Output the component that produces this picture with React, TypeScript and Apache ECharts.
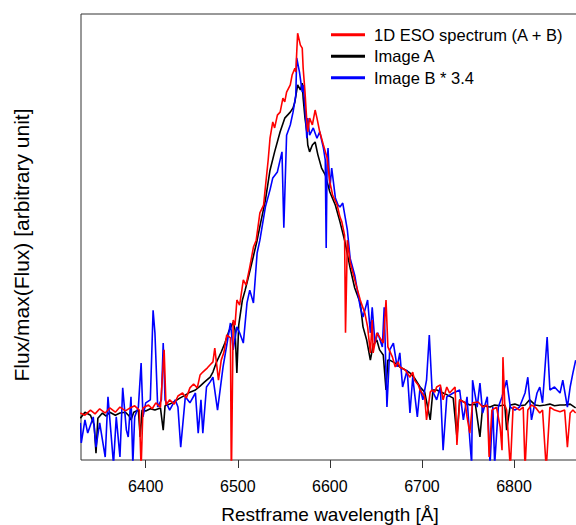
import React, { useEffect, useRef } from "react";
import * as echarts from "echarts";

// Tick labels on the wavelength axis
const wavelengthTicks = [6400, 6500, 6600, 6700, 6800];

const seriesNames = ["1D ESO spectrum (A + B)", "Image A", "Image B * 3.4"];
const seriesColors = ["#ff0000", "#000000", "#0000ff"];

// [restframe wavelength (Å), Flux/max(Flux)]
const esoSpectrum: [number, number][] = [
  [6329, 0.110], [6334, 0.105], [6340, 0.117], [6345, 0.108], [6350, 0.120], [6356, 0.110],
  [6361, 0.122], [6367, 0.112], [6372, 0.124], [6378, 0.115], [6383, 0.122], [6388, 0.127],
  [6393, 0.117], [6395, -0.02], [6397, 0.122], [6403, 0.129], [6407, 0.120], [6411, 0.134],
  [6416, 0.124], [6420, 0.258], [6422, 0.129], [6426, 0.141], [6431, 0.131], [6435, 0.150],
  [6440, 0.157], [6444, 0.145], [6448, 0.169], [6452, 0.178], [6456, 0.169], [6459, 0.199],
  [6462, 0.206], [6467, 0.216], [6470, 0.223], [6473, 0.230], [6475, 0.262], [6479, 0.187],
  [6482, 0.234], [6485, 0.253], [6488, 0.293], [6492, 0.286], [6493, -0.05], [6495, 0.328],
  [6497, 0.316], [6499, 0.375], [6502, 0.363], [6506, 0.422], [6509, 0.410], [6513, 0.452],
  [6517, 0.499], [6520, 0.515], [6524, 0.579], [6528, 0.597], [6530, 0.640], [6533, 0.703],
  [6535, 0.754], [6538, 0.792], [6540, 0.778], [6543, 0.808], [6546, 0.815], [6549, 0.848],
  [6551, 0.839], [6553, 0.862], [6557, 0.879], [6559, 0.902], [6562, 0.918], [6563, 0.909],
  [6565, 1.000], [6568, 0.972], [6570, 0.965], [6571, 0.918], [6573, 0.862], [6575, 0.792],
  [6576, 0.769], [6578, 0.801], [6581, 0.785], [6584, 0.820], [6586, 0.801], [6589, 0.769],
  [6593, 0.738], [6597, 0.708], [6600, 0.651], [6603, 0.621], [6608, 0.597], [6611, 0.569],
  [6613, 0.558], [6616, 0.527], [6617, 0.298], [6619, 0.515], [6622, 0.464], [6627, 0.422],
  [6633, 0.375], [6638, 0.344], [6641, 0.312], [6644, 0.251], [6646, 0.328], [6647, 0.251],
  [6651, 0.298], [6654, 0.288], [6658, 0.274], [6661, 0.375], [6663, 0.265], [6668, 0.241],
  [6671, 0.218], [6674, 0.230], [6676, 0.218], [6682, 0.211], [6687, 0.194], [6690, 0.206],
  [6692, 0.187], [6696, 0.176], [6698, 0.164], [6703, 0.148], [6705, 0.094], [6709, 0.159],
  [6711, 0.164], [6714, 0.159], [6716, 0.171], [6720, 0.176], [6723, 0.141], [6727, 0.171],
  [6730, 0.157], [6733, 0.164], [6736, 0.171], [6738, 0.035], [6741, 0.141], [6747, 0.134],
  [6749, 0.101], [6752, 0.063], [6755, 0.134], [6761, 0.136], [6766, 0.124], [6771, 0.129],
  [6773, 0.007], [6776, 0.117], [6781, 0.124], [6785, 0.077], [6787, 0.023], [6788, 0.241],
  [6790, 0.129], [6792, 0.117], [6796, -0.02], [6799, 0.124], [6801, 0.124], [6806, 0.117],
  [6810, 0.124], [6812, -0.02], [6815, 0.117], [6819, 0.129], [6823, 0.124], [6828, 0.110],
  [6831, 0.117], [6835, -0.02], [6839, 0.124], [6844, 0.117], [6850, 0.113], [6855, 0.117],
  [6858, 0.030], [6861, 0.110], [6864, 0.117], [6867, 0.110],
];

const imageA: [number, number][] = [
  [6329, 0.098], [6334, 0.112], [6340, 0.105], [6344, 0.082], [6346, 0.016], [6348, 0.098],
  [6353, 0.110], [6357, 0.103], [6361, 0.112], [6367, 0.105], [6372, 0.110], [6378, 0.112],
  [6382, 0.103], [6384, 0.094], [6387, 0.112], [6392, 0.117], [6394, 0.054], [6396, 0.117],
  [6400, 0.115], [6405, 0.120], [6410, 0.117], [6416, 0.122], [6419, 0.070], [6421, 0.127],
  [6426, 0.131], [6432, 0.138], [6437, 0.145], [6443, 0.152], [6448, 0.159], [6454, 0.164],
  [6459, 0.173], [6464, 0.183], [6470, 0.194], [6473, 0.206], [6477, 0.230], [6482, 0.253],
  [6486, 0.274], [6490, 0.300], [6495, 0.323], [6497, 0.305], [6499, 0.204], [6501, 0.316],
  [6505, 0.375], [6508, 0.398], [6512, 0.433], [6517, 0.478], [6521, 0.515], [6525, 0.558],
  [6530, 0.609], [6535, 0.679], [6540, 0.722], [6546, 0.769], [6551, 0.801], [6557, 0.815],
  [6560, 0.825], [6562, 0.839], [6565, 0.879], [6568, 0.867], [6570, 0.883], [6571, 0.848],
  [6573, 0.801], [6575, 0.769], [6576, 0.738], [6578, 0.722], [6581, 0.738], [6584, 0.745],
  [6587, 0.715], [6591, 0.684], [6595, 0.668], [6600, 0.628], [6606, 0.597], [6611, 0.558],
  [6616, 0.515], [6622, 0.450], [6627, 0.403], [6633, 0.368], [6636, 0.312], [6640, 0.281],
  [6644, 0.234], [6647, 0.269], [6651, 0.281], [6654, 0.258], [6658, 0.246], [6661, 0.164],
  [6663, 0.234], [6665, 0.234], [6671, 0.227], [6676, 0.218], [6682, 0.211], [6687, 0.204],
  [6692, 0.192], [6698, 0.171], [6703, 0.159], [6709, 0.094], [6712, 0.164], [6716, 0.164],
  [6723, 0.157], [6728, 0.152], [6734, 0.145], [6738, 0.054], [6741, 0.141], [6747, 0.134],
  [6752, 0.129], [6758, 0.131], [6763, 0.054], [6766, 0.127], [6774, 0.124], [6779, 0.129],
  [6785, 0.127], [6790, 0.129], [6792, 0.070], [6796, 0.129], [6801, 0.131], [6806, 0.127],
  [6812, 0.129], [6817, 0.141], [6823, 0.129], [6828, 0.127], [6834, 0.129], [6839, 0.131],
  [6844, 0.127], [6850, 0.129], [6855, 0.129], [6861, 0.131], [6867, 0.122],
];

const imageB: [number, number][] = [
  [6329, 0.087], [6330, 0.040], [6334, 0.094], [6337, 0.063], [6343, 0.101], [6346, 0.030],
  [6350, 0.087], [6356, 0.007], [6359, 0.148], [6362, 0.070], [6365, -0.01], [6368, 0.101],
  [6372, 0.007], [6375, 0.169], [6379, 0.070], [6381, 0.054], [6384, 0.148], [6386, -0.01],
  [6388, 0.101], [6392, 0.124], [6395, 0.227], [6397, 0.101], [6400, 0.134], [6405, 0.141],
  [6408, 0.351], [6410, 0.298], [6413, 0.124], [6417, 0.141], [6419, 0.274], [6421, 0.141],
  [6426, 0.117], [6432, 0.141], [6435, 0.124], [6438, 0.030], [6443, 0.148], [6448, 0.134],
  [6454, 0.157], [6457, 0.063], [6460, 0.141], [6462, 0.063], [6466, 0.171], [6470, 0.183],
  [6473, 0.194], [6478, 0.117], [6484, 0.218], [6488, 0.269], [6492, 0.321], [6495, 0.258],
  [6499, 0.312], [6502, 0.298], [6506, 0.274], [6510, 0.368], [6513, 0.398], [6517, 0.368],
  [6521, 0.485], [6524, 0.515], [6530, 0.593], [6535, 0.633], [6538, 0.661], [6543, 0.675],
  [6548, 0.722], [6550, 0.544], [6553, 0.761], [6557, 0.785], [6560, 0.815], [6563, 0.855],
  [6564, 0.942], [6567, 0.909], [6570, 0.862], [6571, 0.879], [6573, 0.825], [6575, 0.754],
  [6576, 0.801], [6578, 0.761], [6582, 0.778], [6586, 0.754], [6589, 0.769], [6593, 0.731],
  [6595, 0.703], [6596, 0.497], [6597, 0.691], [6598, 0.731], [6600, 0.637], [6602, 0.684],
  [6606, 0.614], [6609, 0.597], [6611, 0.593], [6614, 0.602], [6619, 0.539], [6622, 0.473],
  [6627, 0.433], [6633, 0.358], [6636, 0.335], [6641, 0.375], [6644, 0.298], [6646, 0.358],
  [6649, 0.274], [6652, 0.298], [6657, 0.265], [6659, 0.358], [6662, 0.124], [6665, 0.258],
  [6669, 0.274], [6673, 0.218], [6676, 0.251], [6679, 0.171], [6684, 0.211], [6687, 0.110],
  [6690, 0.194], [6695, 0.101], [6698, 0.171], [6701, 0.141], [6705, 0.187], [6708, 0.293],
  [6711, 0.164], [6716, 0.141], [6720, 0.171], [6723, 0.023], [6727, 0.148], [6734, 0.157],
  [6741, 0.164], [6745, 0.094], [6749, 0.148], [6752, 0.047], [6754, -0.01], [6755, 0.187],
  [6760, 0.124], [6763, 0.180], [6766, 0.110], [6771, 0.148], [6774, -0.01], [6777, 0.124],
  [6779, -0.01], [6783, 0.124], [6787, 0.148], [6792, 0.187], [6796, 0.124], [6801, 0.117],
  [6806, 0.124], [6812, 0.157], [6815, 0.194], [6819, 0.094], [6825, 0.157], [6828, 0.171],
  [6831, 0.134], [6836, 0.288], [6839, 0.164], [6844, 0.171], [6850, 0.157], [6853, 0.187],
  [6858, 0.124], [6861, 0.171], [6864, 0.204], [6867, 0.234],
];

const FONT = "Liberation Sans, Arial, Helvetica, sans-serif";

export default function App() {
  const ref = useRef<HTMLDivElement>(null);

  useEffect(() => {
    if (!ref.current) return;
    const chart = echarts.init(ref.current, undefined, { renderer: "svg" });
    const dataSets = [esoSpectrum, imageA, imageB];
    const drawOrder = [1, 2, 0];
    chart.setOption({
      animation: false,
      backgroundColor: "#ffffff",
      textStyle: { fontFamily: FONT },
      grid: {
        left: 81,
        top: 14,
        right: -3,
        bottom: 65,
        show: true,
        borderColor: "#333333",
        borderWidth: 1,
        backgroundColor: "transparent",
        containLabel: false,
        outerBoundsMode: "none",
      },
      legend: {
        show: true,
        orient: "vertical",
        left: 326,
        top: 19,
        itemWidth: 34,
        itemHeight: 3,
        itemGap: 0,
        icon: "rect",
        data: seriesNames,
        textStyle: {
          fontFamily: FONT,
          fontSize: 16.5,
          color: "#000",
          lineHeight: 21.5,
          padding: [0, 0, 0, 4],
        },
      },
      xAxis: {
        type: "value",
        min: 6329.7,
        max: 6870.6,
        name: "Restframe wavelength [Å]",
        nameLocation: "middle",
        nameGap: 45,
        nameTextStyle: { fontFamily: FONT, fontSize: 19, color: "#000" },
        axisLine: { show: false },
        splitLine: { show: false },
        axisTick: {
          show: true,
          length: 8,
          customValues: wavelengthTicks,
          lineStyle: { color: "#333", width: 1 },
        },
        axisLabel: {
          show: true,
          customValues: wavelengthTicks,
          formatter: (v: number) => String(v),
          margin: 18,
          fontFamily: FONT,
          fontSize: 16,
          color: "#000",
        },
      },
      yAxis: {
        type: "value",
        min: 0,
        max: 1.045,
        name: "Flux/max(Flux) [arbitrary unit]",
        nameLocation: "middle",
        nameGap: 49,
        nameTextStyle: {
          fontFamily: FONT,
          fontSize: 21,
          color: "#000",
          padding: [0, 16, 0, 0],
        },
        axisLine: { show: false },
        axisTick: { show: false },
        axisLabel: { show: false },
        splitLine: { show: false },
      },
      series: drawOrder.map((i) => ({
        name: seriesNames[i],
        type: "line",
        data: dataSets[i],
        showSymbol: false,
        symbol: "none",
        clip: true,
        color: seriesColors[i],
        lineStyle: { color: seriesColors[i], width: 1.6 },
        emphasis: { disabled: true },
      })),
    });
    return () => chart.dispose();
  }, []);

  return (
    <div
      ref={ref}
      style={{ position: "fixed", left: 0, top: 0, width: 576, height: 525 }}
    />
  );
}
